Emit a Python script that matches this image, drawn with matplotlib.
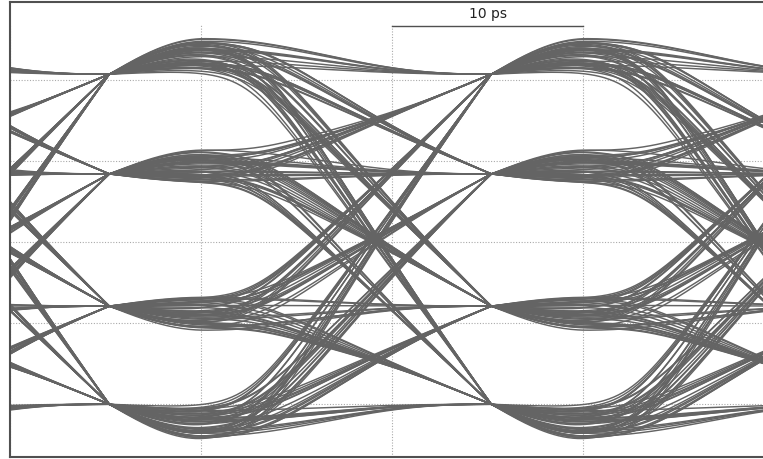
import numpy as np
import matplotlib.pyplot as plt

# PAM4 levels at the decision crossings (mV)
levels_mv = [-200, -79, 84, 207]

# transmitted symbol stream (index into levels_mv)
symbols = [int(c) for c in (
    "0312" "2013" "3102" "1230" "0321" "1320" "2310" "0213" "3012" "2103"
    "1032" "3201" "0132" "2301" "1023" "3210" "0033" "1122" "2200" "3311"
    "0202" "1313" "0303" "1212" "2020" "3131" "0011" "2233" "1100" "3322"
    "2130" "3021" "0120" "1301" "2032" "3123" "0231" "1002" "2113" "3220"
    "0310" "1021" "2132" "3203" "0010" "1121" "2232" "3303" "0230" "1321"
)]

ui_ps = 20.0          # unit interval
cross_ps = 5.2        # time where all traces settle onto a level
time_grid = [0, 10, 20, 30]
volt_grid = [-200, -100, 0, 100, 200]

# channel shape
overshoot = 0.11      # bump after a transition, fraction of the step
tail = 0.035          # leftover from the symbol before
tail2 = 0.015         # and the ones before that
tail3 = 0.008
edge_shift = 0.03     # edge moves with the size of the last step (UI per full swing)
t_peak = 0.25
t_start, soft = 0.36, 0.05

trace_color = '#646464'
grid_color = '#aaaaaa'
frame_color = '#505050'


def hump(t):
    rise = np.sin(np.pi / 2 * np.clip(t / t_peak, 0, 1))
    u = np.clip((t - t_peak) / (1 - t_peak), 0, 1)
    fall = (0.5 * (1 + np.cos(np.pi * u))) ** 1.3
    return np.where(t < t_peak, rise, fall)


def ramp(t, t0):
    num = soft * np.logaddexp(0, (t - t0) / soft)
    den = soft * np.logaddexp(0, (1 - t0) / soft)
    return num / den


fig = plt.figure(figsize=(7.63, 4.60), dpi=100)
ax = fig.add_axes([10 / 763, 2 / 460, 764 / 763, 455 / 460])
ax.set_xlim(0, 40)
ax.set_ylim(-265, 296)

# dotted screen grid
for xg in time_grid:
    ax.plot([xg, xg], [-265, 269], ls=(0, (1, 1.5)), color=grid_color, lw=0.8, zorder=1)
for yg in volt_grid:
    ax.plot([0, 40], [yg, yg], ls=(0, (1, 1.5)), color=grid_color, lw=0.8, zorder=1)

swing = levels_mv[-1] - levels_mv[0]
t = np.linspace(0, 1, 160)
for n in range(4, len(symbols) - 1):
    p4, p3, p2, p1 = (levels_mv[symbols[n - k]] for k in (4, 3, 2, 1))
    a = levels_mv[symbols[n]]
    b = levels_mv[symbols[n + 1]]
    d = overshoot * (a - p1) + tail * (p1 - p2) + tail2 * (p2 - p3) + tail3 * (p3 - p4)
    t0 = t_start + edge_shift * abs(a - p1) / swing
    y = a + d * hump(t) + (b - a) * ramp(t, t0)
    for shift in (-1, 0, 1):
        ax.plot(cross_ps + (t + shift) * ui_ps, y, color=trace_color, lw=1.05, zorder=2)

# 10 ps marker
ax.plot([20, 30], [267, 267], color=frame_color, lw=1.0, zorder=3)
ax.text(25, 283, '10 ps', ha='center', va='center', fontsize=10, color='#222222')

ax.set_xticks([])
ax.set_yticks([])
for side in ('top', 'left', 'bottom'):
    ax.spines[side].set_color(frame_color)
    ax.spines[side].set_linewidth(1.5)
ax.spines['right'].set_visible(False)

fig.savefig('out.png', dpi=100)
